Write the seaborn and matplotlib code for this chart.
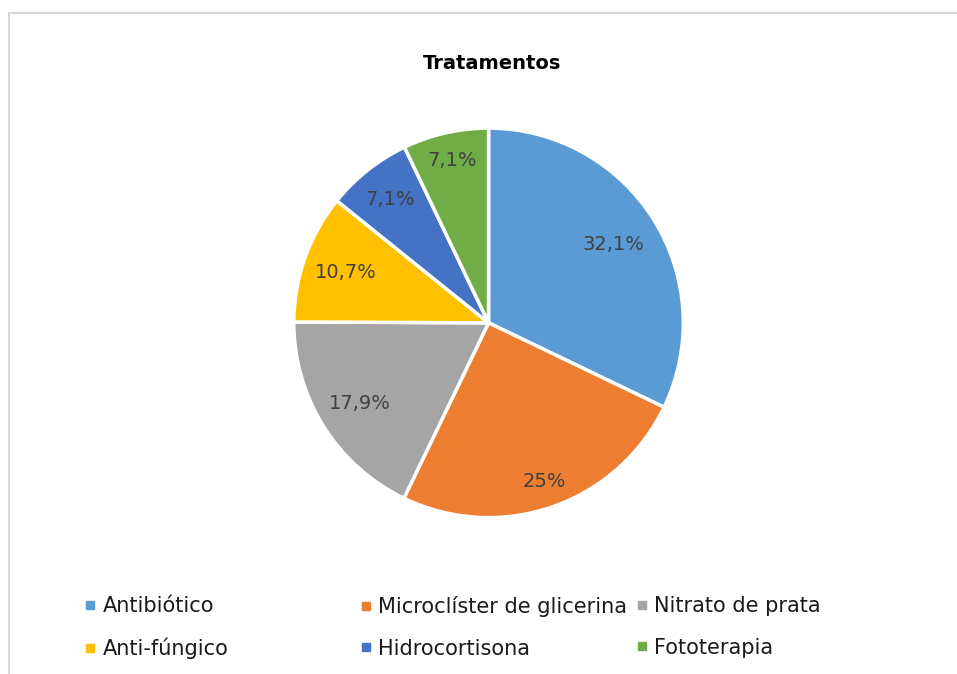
import matplotlib
matplotlib.use("Agg")
import numpy as np
import matplotlib.pyplot as plt
from matplotlib.lines import Line2D
import seaborn as sns

sns.set_theme(style="white")
plt.rcParams['font.family'] = ['DejaVu Sans']

# data
categories = ["Antibiótico", "Microclíster de glicerina", "Nitrato de prata",
              "Anti-fúngico", "Hidrocortisona", "Fototerapia"]
percentages = [32.1, 25, 17.9, 10.7, 7.1, 7.1]
colors = ["#5B9BD5", "#ED7D31", "#A5A5A5", "#FFC000", "#4472C4", "#70AD47"]

pct_labels = [f"{v:g}".replace(".", ",") + "%" for v in percentages]

# radial placement of the data labels (Excel "best fit" look)
label_dist = [0.76, 0.865, 0.78, 0.78, 0.81, 0.855]

fig = plt.figure(figsize=(9.57, 6.74), dpi=100)

# pie axes
ax = fig.add_axes([0.307, 0.232, 0.407, 0.578])
it = iter(pct_labels)
wedges, texts, autotexts = ax.pie(
    percentages, colors=colors, startangle=90, counterclock=False,
    autopct=lambda p: next(it), pctdistance=0.8,
    wedgeprops=dict(edgecolor="white", linewidth=2.5),
    textprops=dict(color="#404040", fontsize=14))
for w, t, d in zip(wedges, autotexts, label_dist):
    ang = np.deg2rad((w.theta1 + w.theta2) / 2)
    t.set_position((d * np.cos(ang), d * np.sin(ang)))
ax.set_aspect("equal")
ax.set_xlim(-1, 1)
ax.set_ylim(-1, 1)

fig.text(0.514, 0.906, "Tratamentos", ha="center", va="center",
         fontsize=14, fontweight="bold", color="#000000")

# legend: three columns with equal spacing, like Excel
col_x = [0.089, 0.377, 0.665]
for c, x in enumerate(col_x):
    idx = [c, c + 3]
    handles = [Line2D([], [], marker="s", linestyle="", markersize=5.5,
                      markerfacecolor=colors[i], markeredgecolor=colors[i])
               for i in idx]
    fig.legend(handles, [categories[i] for i in idx], loc="upper left",
               bbox_to_anchor=(x, 0.116), bbox_transform=fig.transFigure,
               frameon=False, fontsize=15, handlelength=0.5, handletextpad=0.35,
               labelspacing=1.05, borderpad=0, borderaxespad=0,
               labelcolor="#1a1a1a")

# chart frame (top and left edges visible)
fig.add_artist(Line2D([0.009, 1.0], [0.981, 0.981], transform=fig.transFigure,
                      color="#d9d9d9", linewidth=1.5))
fig.add_artist(Line2D([0.009, 0.009], [0.0, 0.981], transform=fig.transFigure,
                      color="#d9d9d9", linewidth=1.5))

fig.savefig("out.png", dpi=100, facecolor="white")
